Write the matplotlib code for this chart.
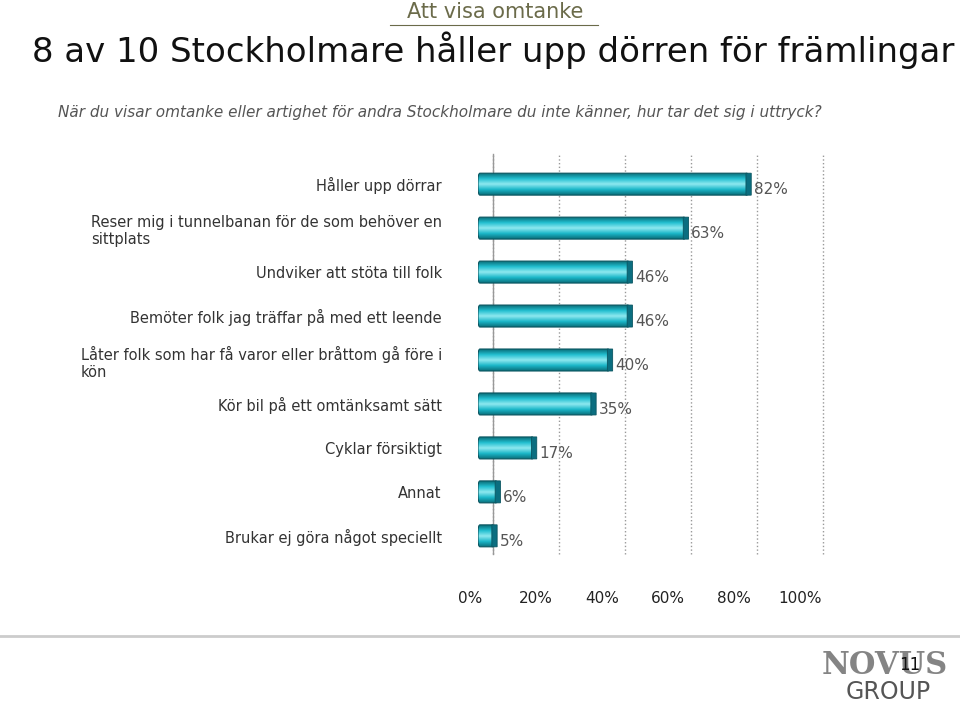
import matplotlib.pyplot as plt
import matplotlib.transforms as mtransforms
from matplotlib.patches import FancyBboxPatch
import numpy as np

categories = ["Håller upp dörrar",
              "Reser mig i tunnelbanan för de som behöver en\nsittplats",
              "Undviker att stöta till folk",
              "Bemöter folk jag träffar på med ett leende",
              "Låter folk som har få varor eller bråttom gå före i\nkön",
              "Kör bil på ett omtänksamt sätt",
              "Cyklar försiktigt",
              "Annat",
              "Brukar ej göra något speciellt"]
values = [82, 63, 46, 46, 40, 35, 17, 6, 5]
xticks = [0, 20, 40, 60, 80, 100]

fig = plt.figure(figsize=(9.6, 7.07), dpi=100)
ax = fig.add_axes([478 / 960, 1 - 560 / 707, 330 / 960, 400 / 707])
n = len(categories)
ypos = np.arange(n)[::-1]
ax.set_xlim(0, 100)
ax.set_ylim(-0.55, n - 0.45)

# back-plane gridlines (pseudo 3D)
back = ax.transData + mtransforms.ScaledTranslation(15 / 100, 6 / 100, fig.dpi_scale_trans)
for x in xticks:
    ax.plot([x, x], [-0.55, n - 0.45], color="#999999", lw=1, ls=":", transform=back, clip_on=False)
ax.plot([0, 0], [-0.55, n - 0.45], color="#999999", lw=1, transform=back, clip_on=False)

# cylinder-like bars with gradient
grad = np.linspace(0, 1, 64).reshape(-1, 1)
cmap = plt.matplotlib.colors.LinearSegmentedColormap.from_list(
    "cyl", ["#0a6f7a", "#1bb7c9", "#8fe9f0", "#22bfd0", "#0a6f7a"])
h = 0.5
for y, v in zip(ypos, values):
    im = ax.imshow(grad, extent=[0, v, y - h / 2, y + h / 2], aspect="auto",
                   cmap=cmap, origin="lower", zorder=3)
    box = FancyBboxPatch((0, y - h / 2), v, h, boxstyle="round,pad=0,rounding_size=0.6",
                         mutation_aspect=0.3, facecolor="none", edgecolor="#0a5560", lw=0.8, zorder=4)
    ax.add_patch(box)
    im.set_clip_path(box)
    ax.add_patch(FancyBboxPatch((v - 0.8, y - h / 2), 1.6, h, boxstyle="round,pad=0",
                                facecolor="#0b6e80", edgecolor="#0a5560", lw=0.6, zorder=5))
    ax.text(v + 1.5, y - 0.12, f"{v}%", va="center", ha="left", fontsize=11,
            color="#555555", zorder=6)

ax.set_yticks(ypos)
ax.set_yticklabels(categories, fontsize=10.5, color="#333333", multialignment="left")
ax.tick_params(axis="y", length=0, pad=26)
ax.set_xticks(xticks)
ax.set_xticklabels([f"{x}%" for x in xticks], fontsize=11, color="#222222")
ax.tick_params(axis="x", length=0, pad=22)
off = mtransforms.ScaledTranslation(-8 / 100, 0, fig.dpi_scale_trans)
for lab in ax.get_xticklabels():
    lab.set_transform(lab.get_transform() + off)
for s in ax.spines.values():
    s.set_visible(False)
ax.patch.set_alpha(0)

fig.text(495 / 960, 1 - 12 / 707, "Att visa omtanke", ha="center", va="center",
         fontsize=15, color="#6b6b4a")
fig.add_artist(plt.Line2D([390 / 960, 598 / 960], [1 - 25 / 707] * 2, color="#6b6b4a", lw=0.8))
fig.text(493 / 960, 1 - 50 / 707, "8 av 10 Stockholmare håller upp dörren för främlingar",
         ha="center", va="center", fontsize=24.5, color="#111111")
fig.text(440 / 960, 1 - 113 / 707,
         "När du visar omtanke eller artighet för andra Stockholmare du inte känner, hur tar det sig i uttryck?",
         ha="center", va="center", fontsize=11, style="italic", color="#555555")
fig.add_artist(plt.Line2D([0, 1], [1 - 636 / 707] * 2, color="#cccccc", lw=2))
fig.text(885 / 960, 1 - 665 / 707, "NOVUS", ha="center", va="center", fontsize=22,
         fontweight="bold", family="DejaVu Serif", color="#666666", alpha=0.8)
fig.text(888 / 960, 1 - 692 / 707, "GROUP", ha="center", va="center", fontsize=17, color="#555555")
fig.text(910 / 960, 1 - 665 / 707, "11", ha="center", va="center", fontsize=12, color="#111111")

fig.savefig("out.png", dpi=100)
